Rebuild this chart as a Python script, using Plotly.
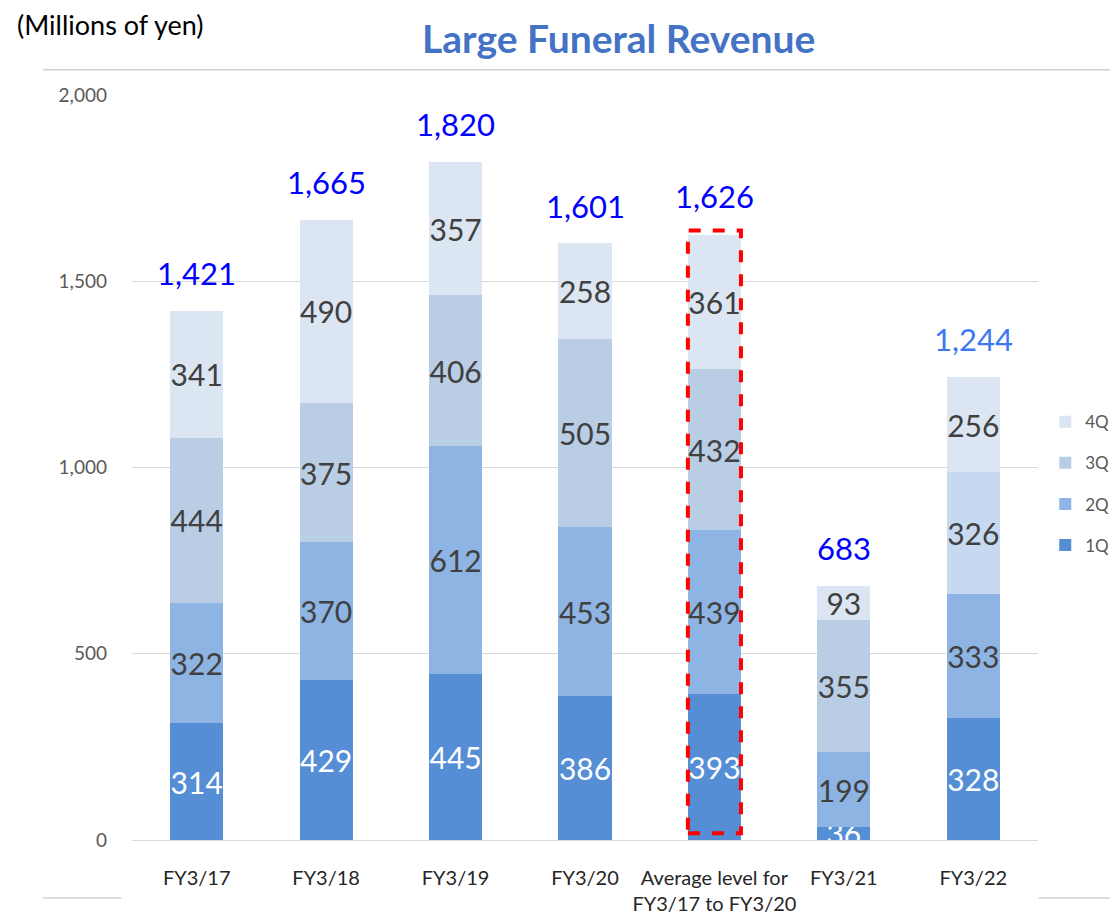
import plotly.graph_objects as go

categories = ["FY3/17", "FY3/18", "FY3/19", "FY3/20",
              "Average level for<br>FY3/17 to FY3/20", "FY3/21", "FY3/22"]
q1 = [314, 429, 445, 386, 393, 36, 328]
q2 = [322, 370, 612, 453, 439, 199, 333]
q3 = [444, 375, 406, 505, 432, 355, 326]
q4 = [341, 490, 357, 258, 361, 93, 256]
totals = [1421, 1665, 1820, 1601, 1626, 683, 1244]
y_ticks = [0, 500, 1000, 1500, 2000]
y_tick_labels = ["0", "500", "1,000", "1,500", "2,000"]
highlight_index = 4

FONT = "Lato"
c1 = "#558ed5"
c2 = "#8eb4e3"
c3 = ["#b9cde5"] * 6 + ["#c6d9f1"]
c4 = "#dce6f2"
total_colors = ["#0000ff"] * 6 + ["#3b78f2"]
BAR_W = 0.41

x_idx = list(range(len(categories)))
fig = go.Figure()
series = [("1Q", q1, c1, "white"), ("2Q", q2, c2, "#404040"),
          ("3Q", q3, c3, "#404040"), ("4Q", q4, c4, "#404040")]
for i, (name, vals, col, tcol) in enumerate(series):
    fig.add_trace(go.Bar(
        x=x_idx, y=vals, name=name, marker=dict(color=col, line=dict(width=0)),
        text=[str(v) for v in vals], textposition="inside",
        insidetextanchor="middle", textangle=0,
        textfont=dict(family=FONT, size=30, color=tcol),
        width=BAR_W, legendgroup=name, legendrank=len(series) - i,
        constraintext="none",
    ))

for i, t in enumerate(totals):
    fig.add_annotation(x=i, y=t, text=f"{t:,}", showarrow=False, yshift=38,
                       yanchor="middle",
                       font=dict(family=FONT, size=31, color=total_colors[i]))

# red dashed highlight box around average bar
fig.add_shape(type="rect", xref="x", yref="y",
              x0=highlight_index - BAR_W / 2, x1=highlight_index + BAR_W / 2,
              y0=18, y1=totals[highlight_index] + 10,
              line=dict(color="#ff0000", width=4, dash="dash"), layer="above")

fig.add_annotation(xref="paper", yref="paper", x=-0.129, y=1.094,
                   xanchor="left", yanchor="middle",
                   text="(Millions of yen)", showarrow=False,
                   font=dict(family=FONT, size=27, color="black"))
fig.add_annotation(xref="paper", yref="paper", x=0.5375, y=1.0765,
                   xanchor="center", yanchor="middle",
                   text="<b>Large Funeral Revenue</b>", showarrow=False,
                   font=dict(family=FONT, size=39, color="#4472c4"))

# slide separator lines
fig.add_shape(type="line", xref="paper", yref="paper", x0=-0.098, x1=1.09,
              y0=1.034, y1=1.034, line=dict(color="#d0d0d0", width=1.5))
fig.add_shape(type="line", xref="paper", yref="paper", x0=-0.098, x1=-0.012,
              y0=-0.078, y1=-0.078, line=dict(color="#d0d0d0", width=1.5))
fig.add_shape(type="line", xref="paper", yref="paper", x0=1.001, x1=1.09,
              y0=-0.078, y1=-0.078, line=dict(color="#d0d0d0", width=1.5))

fig.update_layout(
    width=1110, height=908,
    margin=dict(l=124, r=80, t=87, b=76, autoexpand=False),
    paper_bgcolor="white", plot_bgcolor="white",
    barmode="stack",
    showlegend=True,
    legend=dict(x=1.008, y=0.585, xanchor="left", yanchor="top",
                traceorder="grouped", tracegroupgap=16,
                font=dict(family=FONT, size=17, color="#595959"),
                itemwidth=30, borderwidth=0, bgcolor="rgba(0,0,0,0)"),
    uniformtext=dict(minsize=30, mode="show"),
    font=dict(family=FONT),
)
fig.update_xaxes(range=[-0.5, 6.5], tickmode="array", tickvals=x_idx,
                 ticktext=categories, showgrid=False, showline=False,
                 zeroline=False, ticks="", ticklabelstandoff=24, automargin=False,
                 tickfont=dict(family=FONT, size=20, color="#262626"))
fig.update_yaxes(range=[0, 2000], tickmode="array", tickvals=y_ticks,
                 ticktext=y_tick_labels, showgrid=True, gridcolor="#d9d9d9",
                 gridwidth=1, zeroline=True, zerolinecolor="#d9d9d9",
                 zerolinewidth=1, showline=False, ticks="", ticklabelstandoff=24,
                 automargin=False,
                 tickfont=dict(family=FONT, size=19, color="#595959"))

fig.write_html("out.html")
